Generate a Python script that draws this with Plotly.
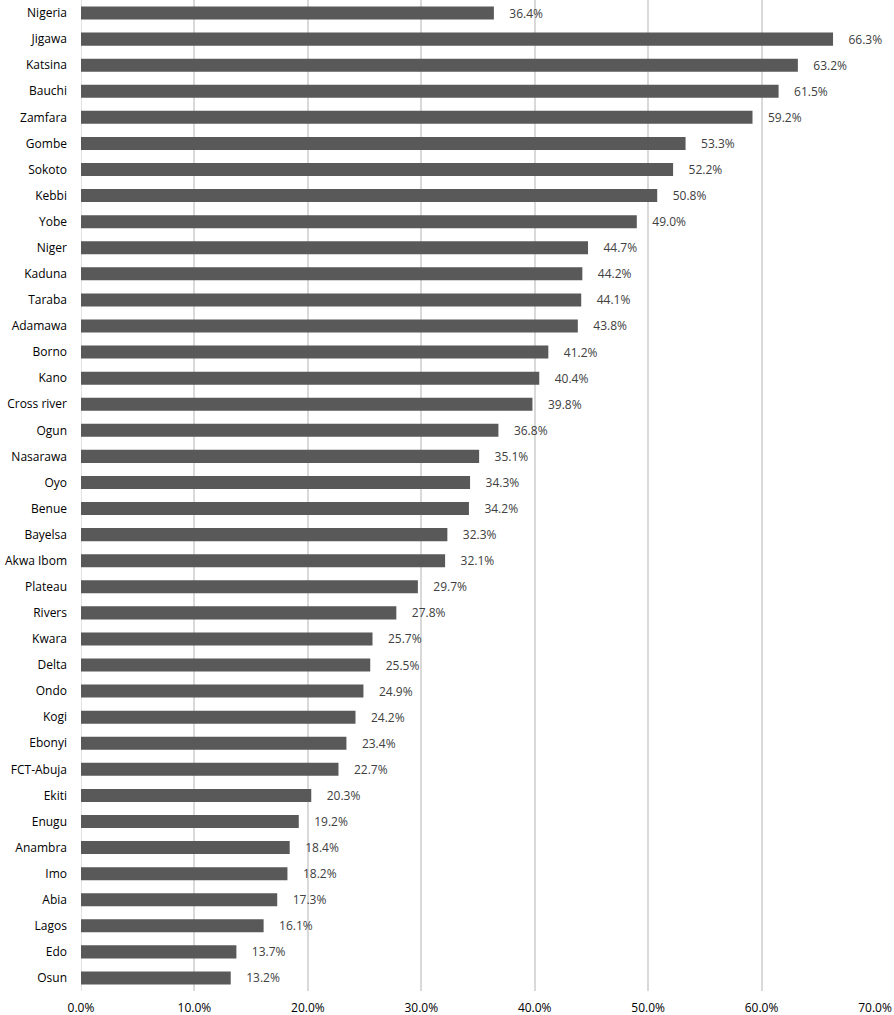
import plotly.graph_objects as go

states = ["Nigeria", "Jigawa", "Katsina", "Bauchi", "Zamfara", "Gombe", "Sokoto", "Kebbi", "Yobe",
          "Niger", "Kaduna", "Taraba", "Adamawa", "Borno", "Kano", "Cross river", "Ogun", "Nasarawa",
          "Oyo", "Benue", "Bayelsa", "Akwa Ibom", "Plateau", "Rivers", "Kwara", "Delta", "Ondo", "Kogi",
          "Ebonyi", "FCT-Abuja", "Ekiti", "Enugu", "Anambra", "Imo", "Abia", "Lagos", "Edo", "Osun"]
values = [36.4, 66.3, 63.2, 61.5, 59.2, 53.3, 52.2, 50.8, 49.0,
          44.7, 44.2, 44.1, 43.8, 41.2, 40.4, 39.8, 36.8, 35.1,
          34.3, 34.2, 32.3, 32.1, 29.7, 27.8, 25.7, 25.5, 24.9, 24.2,
          23.4, 22.7, 20.3, 19.2, 18.4, 18.2, 17.3, 16.1, 13.7, 13.2]
tick_vals = [0, 10, 20, 30, 40, 50, 60, 70]
tick_text = ["0.0%", "10.0%", "20.0%", "30.0%", "40.0%", "50.0%", "60.0%", "70.0%"]

fig = go.Figure(go.Bar(
    x=values, y=states, orientation="h",
    marker=dict(color="#595959", line=dict(width=0)),
    width=0.5,
    text=["    %.1f%%" % v for v in values],
    textposition="outside",
    constraintext="none",
    textfont=dict(family="Open Sans", size=12, color="#404040"),
    cliponaxis=False,
    hoverinfo="skip",
))

fig.update_layout(
    width=894, height=1015,
    margin=dict(l=81, r=19, t=0, b=24, autoexpand=False),
    paper_bgcolor="white", plot_bgcolor="white",
    showlegend=False,
    bargap=0.5,
    font=dict(family="Open Sans", size=12, color="#000000"),
)
fig.update_xaxes(
    range=[0, 70], tickvals=tick_vals, ticktext=tick_text,
    showgrid=True, gridcolor="#d9d9d9", gridwidth=1.5,
    zeroline=False, showline=False, ticks="",
    tickfont=dict(family="Open Sans", size=12, color="#000000"),
    ticklabelstandoff=8, automargin=False,
)
fig.update_yaxes(
    categoryorder="array", categoryarray=states, autorange="reversed",
    showgrid=False, zeroline=False, showline=False, ticks="",
    tickfont=dict(family="Open Sans", size=12, color="#000000"),
    ticklabelstandoff=13, automargin=False,
)
fig.add_shape(type="line", xref="x", yref="paper", x0=0, x1=0, y0=0, y1=1,
              line=dict(color="#d9d9d9", width=1.5), layer="below")

fig.write_html("out.html", config={"displayModeBar": False},
               post_script="document.body.style.margin='0';document.body.style.overflow='hidden';")
